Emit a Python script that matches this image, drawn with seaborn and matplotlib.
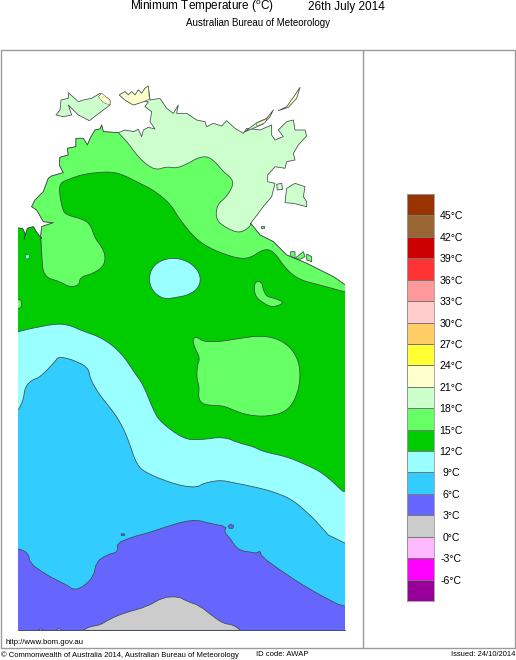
import numpy as np
import pandas as pd
import matplotlib
matplotlib.use('Agg')
import matplotlib.pyplot as plt
from matplotlib.colors import ListedColormap
from matplotlib.lines import Line2D
import seaborn as sns

# colour key, top band first (lower edge of each band in deg C)
band_low = [45, 42, 39, 36, 33, 30, 27, 24, 21, 18, 15, 12, 9, 6, 3, 0, -3, -6, -9]
band_colors = ['#993300', '#996633', '#CC0000', '#FF3333', '#FF9999', '#FFCCCC', '#FFCC66',
               '#FFFF33', '#FFFFCC', '#CCFFCC', '#66FF66', '#00CC00', '#99FFFF', '#33CCFF',
               '#6666FF', '#CCCCCC', '#FFB9FF', '#FF00FF', '#990099']
key_labels = ['45°C', '42°C', '39°C', '36°C', '33°C', '30°C', '27°C', '24°C', '21°C', '18°C',
              '15°C', '12°C', '9°C', '6°C', '3°C', '0°C', '-3°C', '-6°C']

C_PALE, C_LIGHT, C_GREEN, C_CYAN, C_BLUE, C_INDIGO, C_GREY = '#CCFFCC', '#66FF66', '#00CC00', '#99FFFF', '#33CCFF', '#6666FF', '#CCCCCC'
C_CREAM = '#FFFFCC'

coast_west = [(355, 248), (310, 245), (305, 225), (300, 237), (285, 240), (272, 262), (262, 285), (250, 265),
              (228, 265), (228, 290), (202, 295), (205, 315), (180, 322), (178, 345), (190, 368), (155, 378),
              (145, 385), (130, 425), (105, 450), (95, 470), (110, 480), (130, 515), (160, 518), (125, 530), (122, 560)]
coast_north = [(355, 248), (375, 240), (400, 245), (415, 238), (425, 260), (430, 240), (445, 232), (465, 237),
               (450, 215), (455, 185), (435, 170), (445, 155), (430, 155), (400, 165), (375, 150), (358, 135),
               (375, 125), (385, 135), (395, 125), (405, 135), (415, 120), (425, 130), (435, 115), (445, 108),
               (450, 150), (480, 145), (500, 175), (520, 190), (535, 165), (530, 190), (560, 190), (590, 210),
               (615, 215), (620, 230), (640, 220), (665, 228), (680, 212), (705, 235), (730, 250), (740, 235),
               (765, 238), (780, 240), (815, 225), (815, 255), (825, 270), (850, 260), (835, 240), (860, 215),
               (880, 210), (885, 240), (915, 240), (920, 258), (895, 285), (880, 310), (885, 330), (860, 335),
               (855, 355), (825, 350), (803, 375), (803, 395), (825, 400), (815, 440), (790, 470), (752, 520)]
coast_gulf = [(752, 520), (780, 555), (820, 575), (860, 615), (920, 640), (960, 660), (1000, 680), (1032, 712)]
left_patch = [(55, 532), (68, 536), (75, 550), (72, 570), (82, 535), (100, 530), (112, 550), (125, 565), (122, 560)]

pale_edge = [(355, 248), (385, 280), (410, 315), (440, 345), (470, 360), (500, 350), (530, 355), (565, 340),
             (590, 325), (620, 318), (645, 335), (670, 365), (695, 385), (700, 405), (680, 440), (650, 465),
             (648, 510), (680, 535), (720, 550), (750, 530), (752, 520)]
green_edge = [(122, 560), (125, 610), (130, 680), (180, 695), (210, 712), (238, 705), (240, 682), (280, 670),
              (310, 650), (317, 620), (305, 590), (285, 565), (270, 520), (240, 505), (200, 495), (188, 480),
              (178, 430), (180, 400), (200, 390), (250, 372), (320, 365), (360, 370), (420, 400), (460, 420),
              (510, 460), (540, 510), (590, 570), (640, 600), (710, 625), (750, 625), (790, 597), (820, 602),
              (860, 660), (900, 690), (960, 705), (1032, 725)]
cyan_edge = [(55, 125), (95, 115), (175, 100), (215, 108), (240, 120), (310, 145), (365, 190), (405, 250),
             (430, 285), (460, 360), (480, 395), (550, 447), (600, 450), (670, 440), (720, 460), (760, 470),
             (790, 485), (860, 500), (920, 525), (970, 550), (1032, 607)]
blue_edge = [(55, 360), (70, 330), (75, 292), (95, 270), (120, 262), (165, 215), (175, 200), (215, 208),
             (265, 232), (270, 265), (295, 310), (340, 365), (365, 405), (385, 450), (410, 525), (440, 550),
             (530, 585), (590, 593), (610, 580), (660, 570), (700, 578), (760, 590), (820, 605), (880, 630),
             (940, 685)]
blue_edge_low = [(985, 45), (1032, 75)]
indigo_edge = [(55, 85), (85, 100), (90, 130), (140, 165), (200, 195), (222, 210), (250, 200), (280, 170),
               (290, 125), (320, 105), (355, 95), (350, 70), (400, 50), (440, 40), (500, 20), (550, 5), (590, 0),
               (630, 10), (680, 20), (672, 35), (690, 55), (710, 85), (735, 95), (745, 95), (770, 100), (780, 92),
               (785, 110), (840, 150), (900, 190), (960, 225), (1032, 262)]
grey_edge = [(248, 331), (270, 320), (300, 315), (330, 297), (370, 280), (440, 260), (490, 232), (535, 230),
             (560, 243), (600, 258), (640, 290), (670, 310), (700, 315), (722, 331)]

cold_pool = [(447, 685), (455, 655), (480, 632), (520, 623), (560, 632), (590, 655), (603, 685), (595, 715),
             (565, 735), (530, 742), (495, 747), (470, 735), (452, 712)]
warm_blob = [(577, 148), (590, 140), (610, 155), (660, 155), (720, 145), (780, 137), (830, 145), (870, 170),
             (895, 210), (902, 260), (890, 320), (860, 365), (800, 380), (740, 375), (700, 360), (670, 347),
             (610, 345), (595, 325), (598, 290), (590, 265), (592, 225), (600, 205), (585, 175)]
warm_islet = [(762, 0), (770, 25), (800, 45), (820, 52), (855, 38), (825, 25), (800, 20), (790, 0), (785, -25), (765, -25)]

tiwi = [(168, 195), (180, 180), (183, 150), (205, 145), (205, 128), (235, 155), (250, 150), (275, 145), (300, 130),
        (330, 150), (330, 165), (310, 180), (268, 212), (235, 195), (205, 165), (215, 195), (190, 200)]
tiwi_warm = [(295, 140), (305, 130), (330, 150), (330, 165), (310, 158)]
cobourg_warm = [(358, 135), (375, 125), (385, 135), (395, 125), (405, 135), (415, 120), (425, 130), (435, 115), (445, 108),
                (448, 148), (430, 155), (400, 165), (375, 150)]
elcho = [(735, 245), (770, 218), (800, 205), (820, 180), (810, 200), (790, 222), (760, 235)]
elcho_warm = [(770, 220), (800, 207), (795, 218), (770, 228)]
marchinbar = [(835, 182), (860, 170), (885, 135), (900, 112), (890, 145), (865, 172)]
groote = [(860, 415), (885, 400), (915, 410), (910, 440), (920, 455), (920, 470), (880, 460), (855, 458)]
bickerton = [(830, 403), (845, 400), (848, 418), (832, 420)]
pellew = [[(872, 605), (885, 605), (885, 625), (872, 618)], [(885, 625), (910, 605), (915, 620), (900, 628)],
          [(920, 612), (935, 620), (935, 635), (920, 630)]]
gulf_dot = [(783, 527), (791, 527), (791, 535), (783, 535)]
west_dot = [(76, 615), (88, 615), (86, 626), (78, 626)]
west_bits = [(55, 28), (63, 30), (65, 48), (58, 55), (55, 55)]
indigo_dots = [[(685, 18), (692, 13), (701, 17), (698, 25), (688, 25)], [(363, 42), (372, 41), (375, 45), (365, 47)]]
grey_bits = [[(115, 331), (122, 326), (130, 331)], [(168, 331), (176, 325), (185, 331)]]

W, H = 516, 660
LEFT, RIGHT, TOP, BOTTOM = 18.3, 344.7, 52, 630.3


# the crops were 3x, each with its own top edge
def upper(pts):
    return [(x / 3, 50 + y / 3) for x, y in pts]


def middle(pts):
    return [(x / 3, 290 + y / 3) for x, y in pts]


def lower(pts):
    return [(x / 3, 520 + y / 3) for x, y in pts]


def px_axes(x0, y0, x1, y1):
    return fig.add_axes([x0 / W, 1 - y1 / H, (x1 - x0) / W, (y1 - y0) / H])


# rounds the corners of a drawn outline, the contours are smooth in the picture
def rounded(pts, closed=False, rounds=2):
    pts = np.array(pts, dtype=float)
    for _ in range(rounds):
        a = np.vstack([pts, pts[:1]]) if closed else pts
        q = 0.75 * a[:-1] + 0.25 * a[1:]
        r = 0.25 * a[:-1] + 0.75 * a[1:]
        mid = np.column_stack([q, r]).reshape(-1, 2)
        pts = mid if closed else np.vstack([a[:1], mid, a[-1:]])
    return [tuple(p) for p in pts]


def region(pts, color, lw=0.55):
    # outlines that reach the map sides run on past them, no line there
    xs = [LEFT - 4 if x <= LEFT + 0.1 else RIGHT + 4 if x >= RIGHT - 0.7 else x for x, y in pts]
    ys = [y for x, y in pts]
    ax.fill(xs, ys, facecolor=color, edgecolor='#3f4a4a', linewidth=lw, joinstyle='round')


sns.set_theme(style='white')
plt.rcParams['font.family'] = ['Liberation Sans', 'DejaVu Sans']

fig = plt.figure(figsize=(W / 100, H / 100), dpi=100)

ax = px_axes(LEFT, TOP, RIGHT, BOTTOM)
ax.set_xlim(LEFT, RIGHT)
ax.set_ylim(BOTTOM, TOP)
ax.axis('off')

corner_sw = [(RIGHT, BOTTOM + 3), (LEFT, BOTTOM + 3)]

land = upper(left_patch + coast_west[::-1][1:] + coast_north + coast_gulf) + corner_sw
region(land, C_PALE)
region(upper(coast_west + [(130, 760), (1032, 760)] + coast_gulf[::-1] + rounded(pale_edge)[::-1]), C_LIGHT)
region(upper(left_patch + rounded(green_edge)) + corner_sw, C_GREEN)
region(middle(rounded(cyan_edge)) + corner_sw, C_CYAN)
region(middle(rounded(blue_edge)) + lower(blue_edge_low) + corner_sw, C_BLUE)
region(lower(rounded(indigo_edge, rounds=1)) + corner_sw, C_INDIGO)
region(lower(rounded(grey_edge, rounds=1)), C_GREY)
for bit in grey_bits:
    region(lower(bit), C_GREY)

region(upper(rounded(cold_pool, closed=True)), C_CYAN)
region(middle(rounded(warm_blob, closed=True)), C_LIGHT)
region(middle(rounded(warm_islet, closed=True)), C_LIGHT)
region(middle(west_bits), C_LIGHT)
region(upper(west_dot), C_CYAN, 0.3)

region(upper(tiwi), C_PALE)
region(upper(tiwi_warm), C_CREAM, 0.3)
region(upper(cobourg_warm), C_CREAM, 0.4)
region(upper(elcho), C_PALE)
region(upper(elcho_warm), C_CREAM, 0.3)
region(upper(marchinbar), C_CREAM)
region(upper(groote), C_PALE)
region(upper(bickerton), C_PALE)
region(upper(gulf_dot), C_LIGHT)
for isl in pellew:
    region(upper(isl), C_LIGHT)
for dot in indigo_dots:
    region(lower(dot), C_INDIGO)

# colour key
key_ax = px_axes(407, 194, 434, 601)
key = pd.DataFrame({'band': band_low})
sns.heatmap(key, ax=key_ax, cmap=ListedColormap(band_colors[::-1]), vmin=-10.5, vmax=46.5,
            cbar=False, xticklabels=False, yticklabels=False, linewidths=0.4, linecolor='#777777')
for side in key_ax.spines.values():
    side.set_visible(True)
    side.set_color('#999999')
    side.set_linewidth(0.6)
key_ax.set_yticks(np.arange(1, len(band_low)))
key_ax.set_yticklabels(key_labels, ha='center', fontsize=7.6, color='black')
key_ax.yaxis.tick_right()
key_ax.tick_params(axis='y', length=0, pad=12.5, right=False, rotation=0)

# frame around map and key, dark line under the map
frame = dict(color='#9a9a9a', linewidth=1.0, transform=fig.transFigure)
for xs, ys in [((1, 515), (50, 50)), ((1, 515), (648, 648)), ((1, 1), (50, 648)),
               ((515, 515), (50, 648)), ((362.5, 362.5), (50, 648))]:
    fig.add_artist(Line2D([x / W for x in xs], [1 - y / H for y in ys], **frame))
fig.add_artist(Line2D([LEFT / W, RIGHT / W], [1 - BOTTOM / H] * 2, color='#3f4a66', linewidth=0.7,
                      transform=fig.transFigure))


def label(x, y, s, size, ha='left', va='center', **kw):
    fig.text(x / W, 1 - y / H, s, fontsize=size, ha=ha, va=va, color='black', **kw)


label(130, 10, 'Minimum Temperature ($\\mathregular{^o}$C)', 8.5, va='baseline')
label(308, 10, '26th July 2014', 8.5, va='baseline')
label(258, 23.5, 'Australian Bureau of Meteorology', 7.0, ha='center')
label(5, 642, 'http://www.bom.gov.au', 5.6)
label(1, 655, '© Commonwealth of Australia 2014, Australian Bureau of Meteorology', 5.5)
label(256, 655, 'ID code: AWAP', 5.5)
label(515, 655, 'Issued: 24/10/2014', 5.4, ha='right')

fig.savefig('out.png', dpi=100, facecolor='white')
